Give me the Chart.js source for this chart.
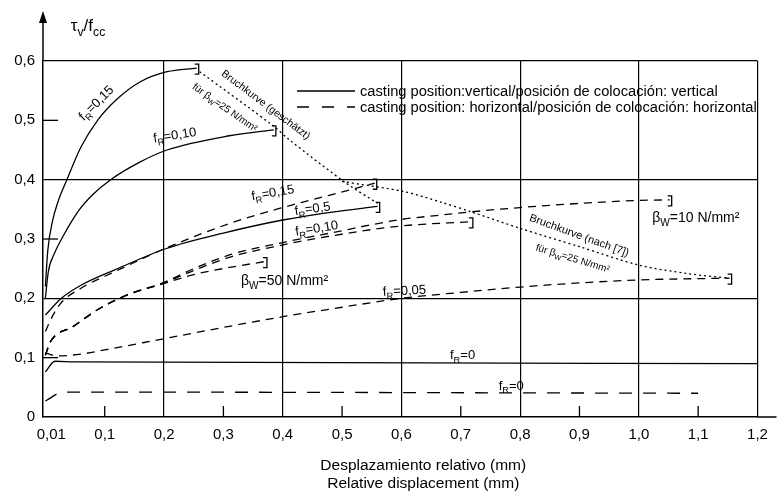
<!DOCTYPE html>
<html><head><meta charset="utf-8">
<script src="https://cdn.jsdelivr.net/npm/chart.js@4.4.0/dist/chart.umd.min.js"></script>
<style>html,body{margin:0;padding:0;background:#fff}canvas{display:block}</style>
</head><body>
<canvas id="c" width="782" height="494"></canvas>
<script>
// ---- tick values ----
const xTickValues = [0.01,0.1,0.2,0.3,0.4,0.5,0.6,0.7,0.8,0.9,1.0,1.1,1.2];
const yTickValues = [0,0.1,0.2,0.3,0.4,0.5,0.6];
const xMajor = [0.2,0.4,0.6,0.8,1.0,1.2];
const yMajor = [0.2,0.4,0.6];
const xMinor = [0.1,0.3,0.5,0.7,0.9,1.1];
const yMinor = [0.1,0.3,0.5];

// ---- casting position vertical (solid) : [displacement mm, tau/fcc] ----
const vertFR015 = [[0.0,0.22],[0.004,0.28],[0.012,0.33],[0.022,0.365],[0.035,0.397],[0.06,0.455],[0.088,0.5],[0.12,0.535],[0.16,0.565],[0.205,0.582],[0.255,0.588]];
const vertFR010 = [[0.0,0.2],[0.005,0.245],[0.015,0.275],[0.03,0.305],[0.057,0.349],[0.08,0.375],[0.11,0.4],[0.16,0.43],[0.205,0.45],[0.31,0.474],[0.385,0.484]];
const vertFR05  = [[0.0,0.172],[0.027,0.2],[0.06,0.222],[0.117,0.248],[0.204,0.284],[0.3,0.31],[0.4,0.332],[0.48,0.345],[0.56,0.355]];
const vertFR0   = [[0.0,0.076],[0.016,0.094],[0.05,0.093],[1.2,0.09]];

// ---- casting position horizontal (dashed) ----
const horFR015  = [[0.0,0.144],[0.012,0.17],[0.027,0.193],[0.06,0.217],[0.117,0.245],[0.204,0.285],[0.31,0.326],[0.4,0.353],[0.48,0.374],[0.555,0.394]];
const horFR010bw50 = [[0.0,0.104],[0.008,0.126],[0.046,0.152],[0.09,0.182],[0.136,0.205],[0.2,0.225],[0.25,0.24],[0.31,0.252],[0.37,0.262]];
const horFR010bw25 = [[0.0,0.104],[0.008,0.126],[0.046,0.152],[0.09,0.182],[0.136,0.205],[0.2,0.226],[0.25,0.247],[0.313,0.27],[0.4,0.29],[0.48,0.305],[0.6,0.322],[0.717,0.329]];
const horFR010bw10 = [[0.0,0.104],[0.008,0.126],[0.046,0.152],[0.09,0.182],[0.136,0.205],[0.2,0.227],[0.25,0.25],[0.313,0.274],[0.4,0.294],[0.48,0.31],[0.6,0.333],[0.664,0.34],[0.72,0.346],[0.8,0.353],[0.9,0.36],[1.0,0.365],[1.052,0.366]];
const horFR005  = [[0.0,0.108],[0.02,0.103],[0.06,0.106],[0.1,0.113],[0.2,0.132],[0.3,0.151],[0.4,0.169],[0.5,0.185],[0.6,0.2],[0.7,0.21],[0.8,0.219],[0.9,0.226],[1.0,0.231],[1.153,0.234]];
const horFR0    = [[0.0,0.027],[0.03,0.042],[1.1,0.04]];

// ---- failure curves (dotted) ----
const bruchGeschaetzt = [[0.26,0.582],[0.385,0.49],[0.41,0.468],[0.507,0.394],[0.56,0.36]];
const bruchNach7 = [[0.5,0.397],[0.604,0.38],[0.667,0.362],[0.717,0.346],[0.8,0.318],[0.9,0.287],[1.0,0.256],[1.08,0.242],[1.15,0.234]];

const FONT = '"Liberation Sans", Arial, Helvetica, sans-serif';

const seriesList = [
  {name:'vertical fR=0,15', pts:vertFR015, kind:'solid', bracket:true},
  {name:'vertical fR=0,10', pts:vertFR010, kind:'solid', bracket:true},
  {name:'vertical fR=0,5',  pts:vertFR05,  kind:'solid', bracket:true},
  {name:'vertical fR=0',    pts:vertFR0,   kind:'solid', bracket:false},
  {name:'horizontal fR=0,15', pts:horFR015, kind:'dash', bracket:true},
  {name:'horizontal fR=0,10 βw=50', pts:horFR010bw50, kind:'dash', bracket:true},
  {name:'horizontal fR=0,10', pts:horFR010bw25, kind:'dash', bracket:true},
  {name:'horizontal fR=0,10 βw=10', pts:horFR010bw10, kind:'dash', bracket:true},
  {name:'horizontal fR=0,05', pts:horFR005, kind:'dash', bracket:true},
  {name:'horizontal fR=0', pts:horFR0, kind:'longdash', bracket:false},
  {name:'Bruchkurve (geschätzt)', pts:bruchGeschaetzt, kind:'dot', bracket:false},
  {name:'Bruchkurve (nach [7])', pts:bruchNach7, kind:'dot', bracket:false}
];

const dashFor = {solid:[], dash:[8,6], longdash:[13,11], dot:[2,3]};

const datasets = seriesList.map(s => ({
  label: s.name,
  data: s.pts.map(p => ({x:p[0], y:p[1]})),
  borderColor:'#000',
  borderWidth: 1.3,
  borderDash: dashFor[s.kind],
  pointRadius:0,
  fill:false,
  cubicInterpolationMode: s.kind==='dot' ? 'default' : 'monotone',
  tension: s.kind==='dot' ? 0.3 : 0,
  bracket: s.bracket
}));

// ---- in-plot text labels ----
const fR = rest => [{t:'f'},{t:'R',sub:true},{t:rest}];
const bw = rest => [{t:'β'},{t:'W',sub:true},{t:rest}];
const plotLabels = [
  {segs:fR('=0,15'), x:0.085, y:0.53, angle:-45, size:13},
  {segs:fR('=0,10'), x:0.218, y:0.476, angle:-9, size:13},
  {segs:[{t:'Bruchkurve (geschätzt)'}], x:0.372, y:0.527, angle:37, size:10.5},
  {segs:[{t:'für '}].concat(bw('=25 N/mm²')), x:0.303, y:0.522, angle:35, size:10},
  {segs:fR('=0,15'), x:0.383, y:0.379, angle:-10, size:13},
  {segs:fR('=0,5'),  x:0.45,  y:0.352, angle:-8, size:13},
  {segs:fR('=0,10'), x:0.457, y:0.319, angle:-9, size:13},
  {segs:bw('=50 N/mm²'), x:0.403, y:0.231, angle:0, size:14},
  {segs:fR('=0,05'), x:0.605, y:0.214, angle:-3, size:13},
  {segs:fR('=0'),    x:0.703, y:0.105, angle:0, size:13},
  {segs:fR('=0'),    x:0.785, y:0.054, angle:0, size:13},
  {segs:[{t:'Bruchkurve (nach [7])'}], x:0.9, y:0.307, angle:20, size:11},
  {segs:[{t:'für '}].concat(bw('=25 N/mm²')), x:0.889, y:0.268, angle:17, size:10},
  {segs:bw('=10 N/mm²'), x:1.096, y:0.337, angle:0, size:14}
];

const legendItems = [
  {text:'casting position:vertical/posición de colocación: vertical', dash:[], width:358},
  {text:'casting position: horizontal/posición de colocación: horizontal', dash:[12,13], width:397}
];

function setFont(ctx, size){ ctx.font = size + 'px ' + FONT; }
function segSize(s, size){ return (s.sub||s.sup) ? size*0.72 : size; }
function richWidth(ctx, segs, size){
  let w=0; segs.forEach(s=>{ setFont(ctx, segSize(s,size)); w+=ctx.measureText(s.t).width; }); return w;
}
function drawRich(ctx, segs, cx, cy, size, angle){
  ctx.save();
  ctx.translate(cx, cy); ctx.rotate(angle*Math.PI/180);
  ctx.textAlign='left'; ctx.textBaseline='alphabetic';
  let x = -richWidth(ctx, segs, size)/2;
  segs.forEach(s=>{
    const sz = segSize(s,size); setFont(ctx, sz);
    const dy = s.sub ? size*0.28 : (s.sup ? -size*0.4 : 0);
    ctx.fillText(s.t, x, size*0.36 + dy);
    x += ctx.measureText(s.t).width;
  });
  ctx.restore();
}
function line(ctx,x1,y1,x2,y2){ ctx.beginPath(); ctx.moveTo(x1,y1); ctx.lineTo(x2,y2); ctx.stroke(); }

const decor = {
  id:'decor',
  afterDraw(chart){
    const ctx = chart.ctx, a = chart.chartArea, xs = chart.scales.x, ys = chart.scales.y;
    ctx.save();
    ctx.strokeStyle='#000'; ctx.fillStyle='#000';
    // minor ticks
    ctx.lineWidth=1.3; ctx.setLineDash([]);
    xMinor.forEach(v=>{ const px=xs.getPixelForValue(v); line(ctx,px,a.bottom,px,a.bottom-11); });
    yMinor.forEach(v=>{ const py=ys.getPixelForValue(v); line(ctx,a.left,py,a.left+15,py); });
    // y axis arrow
    ctx.lineWidth=1.5;
    line(ctx,a.left,a.top,a.left,20);
    ctx.beginPath(); ctx.moveTo(a.left,11); ctx.lineTo(a.left-4,23); ctx.lineTo(a.left+4,23); ctx.closePath(); ctx.fill();
    // x axis extension
    line(ctx,a.right,a.bottom,a.right+19,a.bottom);
    // end brackets
    ctx.lineWidth=1.3;
    chart.data.datasets.forEach((ds,i)=>{
      if(!ds.bracket) return;
      const pts = chart.getDatasetMeta(i).data; const p = pts[pts.length-1];
      const bx = p.x+2;
      ctx.beginPath(); ctx.moveTo(bx-4,p.y-4); ctx.lineTo(bx,p.y-4); ctx.lineTo(bx,p.y+6); ctx.lineTo(bx-4,p.y+6); ctx.stroke();
    });
    // plot labels
    plotLabels.forEach(l=>{
      drawRich(ctx, l.segs, xs.getPixelForValue(l.x), ys.getPixelForValue(l.y), l.size, l.angle);
    });
    // legend
    legendItems.forEach((it,i)=>{
      const ly = a.top + 30 + i*16;
      ctx.setLineDash(it.dash); ctx.lineWidth=1.3;
      line(ctx, a.left+254, ly, a.left+312, ly);
      ctx.setLineDash([]);
      setFont(ctx,13); const w = ctx.measureText(it.text).width;
      const sz = 13*it.width/w; setFont(ctx, sz);
      ctx.textAlign='left'; ctx.textBaseline='middle';
      ctx.fillText(it.text, a.left+317, ly+1);
    });
    // y axis title  τv/fcc
    drawRich(ctx, [{t:'τ'},{t:'v',sub:true},{t:'/f'},{t:'cc',sub:true}], a.left+45, 25, 17, 0);
    // x axis titles
    ctx.textAlign='center'; ctx.textBaseline='middle';
    const cx = (a.left+a.right)/2 + 23;
    setFont(ctx,15.5);
    ctx.fillText('Desplazamiento relativo (mm)', cx, 466);
    ctx.fillText('Relative displacement (mm)', cx, 484);
    ctx.restore();
  }
};

new Chart(document.getElementById('c'), {
  type:'line',
  data:{datasets},
  options:{
    responsive:false, animation:false, devicePixelRatio:1,
    layout:{padding:{top:61,right:24.5,bottom:0,left:0}},
    plugins:{legend:{display:false}, tooltip:{enabled:false}},
    scales:{
      x:{
        type:'linear', min:-0.004, max:1.2,
        afterBuildTicks: s => { s.ticks = xTickValues.map(v=>({value:v})); },
        afterFit: s => { s.height = 77; },
        ticks:{autoSkip:false, maxRotation:0, padding:9, color:'#000',
          font:{family:FONT,size:15},
          callback: v => v===0.01 ? '0,01' : v.toFixed(1).replace('.',',')},
        grid:{drawTicks:false, lineWidth:1.2,
          color: c => (c.tick && xMajor.includes(c.tick.value)) ? '#000' : 'rgba(0,0,0,0)'},
        border:{display:true, color:'#000', width:1.5}
      },
      y:{
        type:'linear', min:0, max:0.6,
        afterBuildTicks: s => { s.ticks = yTickValues.map(v=>({value:v})); },
        afterFit: s => { s.width = 43; },
        ticks:{padding:8, color:'#000', font:{family:FONT,size:15},
          callback: v => v===0 ? '0' : v.toFixed(1).replace('.',',')},
        grid:{drawTicks:false, lineWidth:1.2,
          color: c => (c.tick && yMajor.includes(c.tick.value)) ? '#000' : 'rgba(0,0,0,0)'},
        border:{display:true, color:'#000', width:1.5}
      }
    }
  },
  plugins:[decor]
});
</script>
</body></html>
